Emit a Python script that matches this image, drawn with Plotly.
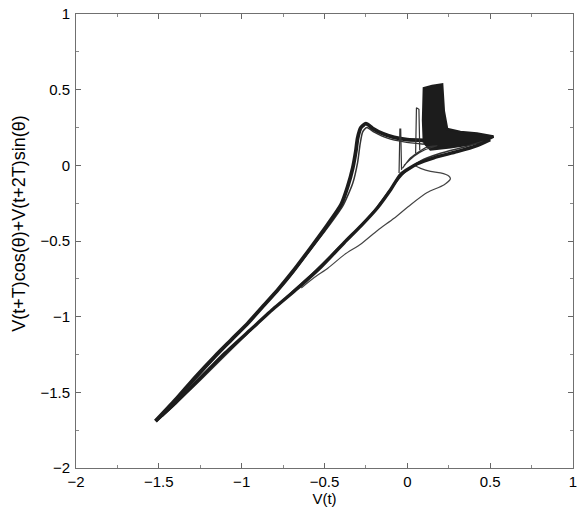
import plotly.graph_objects as go

# ---- data (V(t) vs projected delay coordinate) ----
upper_x = [-1.52, -1.40, -1.28, -1.16, -1.06, -0.96, -0.87, -0.78, -0.69, -0.58, -0.48,
           -0.40, -0.36, -0.33, -0.31, -0.30, -0.28, -0.25, -0.21, -0.15, -0.08, 0.00, 0.10]
upper_y = [-1.69, -1.55, -1.40, -1.26, -1.15, -1.04, -0.93, -0.82, -0.70, -0.54, -0.39,
           -0.26, -0.14, -0.02, 0.10, 0.18, 0.25, 0.275, 0.245, 0.21, 0.185, 0.17, 0.165]

upper2_x = [-1.50, -1.30, -1.10, -0.90, -0.72, -0.60, -0.48, -0.39, -0.33, -0.30, -0.285,
            -0.27, -0.245, -0.20, -0.12, -0.02, 0.10]
upper2_y = [-1.67, -1.44, -1.20, -0.97, -0.75, -0.58, -0.41, -0.27, -0.12, 0.02, 0.14,
            0.22, 0.25, 0.22, 0.18, 0.155, 0.14]

lower_x = [-1.52, -1.40, -1.30, -1.20, -1.10, -0.95, -0.80, -0.66, -0.52, -0.38, -0.28,
           -0.18, -0.10, -0.04, 0.06, 0.16, 0.30, 0.42, 0.50]
lower_y = [-1.69, -1.57, -1.46, -1.35, -1.24, -1.09, -0.94, -0.81, -0.67, -0.51, -0.40,
           -0.28, -0.16, -0.06, 0.01, 0.05, 0.09, 0.13, 0.17]

lower2_x = [-1.48, -1.25, -1.02, -0.85, -0.70, -0.55, -0.42, -0.30, -0.20, -0.11, -0.02,
            0.08, 0.20, 0.34, 0.46]
lower2_y = [-1.66, -1.42, -1.17, -0.99, -0.84, -0.69, -0.55, -0.42, -0.30, -0.17, -0.05,
            0.03, 0.08, 0.12, 0.16]

loop_x = [-0.64, -0.56, -0.48, -0.38, -0.28, -0.18, -0.08, 0.02, 0.12, 0.22, 0.26,
          0.25, 0.20, 0.14, 0.08, 0.04]
loop_y = [-0.81, -0.74, -0.68, -0.59, -0.52, -0.43, -0.35, -0.26, -0.18, -0.13, -0.09,
          -0.07, -0.05, -0.04, -0.02, 0.00]

mesh_x = [-0.03, 0.02, 0.07, 0.12, 0.18, 0.10, 0.04, -0.02]
mesh_y = [-0.02, 0.05, 0.09, 0.12, 0.13, 0.10, 0.06, 0.00]

spike1_x = [-0.05, -0.045, -0.04, -0.035]
spike1_y = [-0.05, 0.24, 0.24, -0.03]
spike2_x = [0.05, 0.055, 0.07, 0.075]
spike2_y = [0.08, 0.38, 0.37, 0.10]

dense_x = [0.10, 0.095, 0.10, 0.15, 0.21, 0.215, 0.22, 0.24, 0.32, 0.42, 0.52, 0.47, 0.38,
           0.26, 0.14, 0.10]
dense_y = [0.15, 0.30, 0.51, 0.525, 0.535, 0.45, 0.36, 0.24, 0.22, 0.21, 0.19, 0.16, 0.14,
           0.12, 0.105, 0.15]

x_ticks = [-2, -1.5, -1, -0.5, 0, 0.5, 1]
x_labels = ["\u22122", "\u22121.5", "\u22121", "\u22120.5", "0", "0.5", "1"]
y_ticks = [-2, -1.5, -1, -0.5, 0, 0.5, 1]
y_labels = ["\u22122", "\u22121.5", "\u22121", "\u22120.5", "0", "0.5", "1"]

INK = "#1c1c1c"
FONT = "Liberation Sans, Arial, sans-serif"
fig = go.Figure()


def line(x, y, w, c=INK, shape="spline"):
    fig.add_trace(go.Scatter(x=x, y=y, mode="lines",
                             line=dict(color=c, width=w, shape=shape, smoothing=0.6),
                             hoverinfo="skip", showlegend=False))


fig.add_trace(go.Scatter(x=dense_x, y=dense_y, mode="lines", fill="toself",
                         fillcolor=INK, line=dict(color=INK, width=2.5),
                         hoverinfo="skip", showlegend=False))
line(loop_x, loop_y, 1.2, "#444")
line(mesh_x, mesh_y, 1.2, "#333")
line(lower2_x, lower2_y, 1.5, "#333")
line(lower_x, lower_y, 3.4)
line(upper2_x, upper2_y, 1.5, "#333")
line(upper_x, upper_y, 3.8)
line(spike1_x, spike1_y, 1.2, "#333", "linear")
line(spike2_x, spike2_y, 1.2, "#333", "linear")

axis_common = dict(
    showline=True, mirror="allticks", linecolor="#707070", linewidth=1,
    ticks="inside", ticklen=5, tickwidth=1, tickcolor="#666",
    showgrid=False, zeroline=False,
    tickfont=dict(family=FONT, size=15, color="#000"),
    minor=dict(ticks="inside", ticklen=3, tickcolor="#888", dtick=0.25, showgrid=False),
)

fig.update_xaxes(range=[-2, 1], tickvals=x_ticks, ticktext=x_labels,
                 title=dict(text="V(t)", standoff=4, font=dict(family=FONT, size=15, color="#000")),
                 **axis_common)
fig.update_yaxes(range=[-2, 1], tickvals=y_ticks, ticktext=y_labels,
                 ticklabelstandoff=2, **axis_common)

fig.add_annotation(text="V(t+T)cos(\u03b8)+V(t+2T)sin(\u03b8)", textangle=-90,
                   xref="paper", yref="paper", x=-0.115, y=0.54,
                   xanchor="center", yanchor="middle", showarrow=False,
                   font=dict(family=FONT, size=18, color="#000"))

fig.update_layout(width=582, height=517, margin=dict(l=76, r=5, t=12, b=49),
                  plot_bgcolor="white", paper_bgcolor="white")

fig.write_html("out.html")
